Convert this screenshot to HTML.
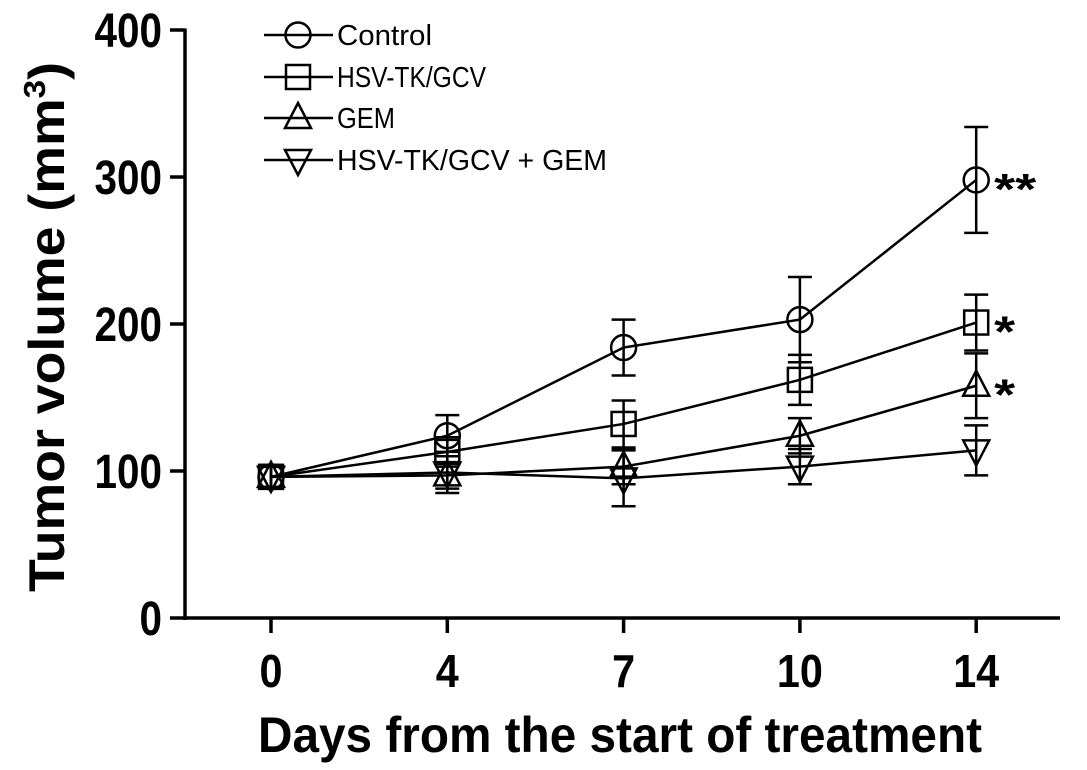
<!DOCTYPE html>
<html><head><meta charset="utf-8"><style>html,body{margin:0;padding:0;background:#fff}svg{display:block}</style></head>
<body>
<svg id="chart" width="1087" height="770" viewBox="0 0 1087 770" xmlns="http://www.w3.org/2000/svg" font-family="'Liberation Sans', Arial, sans-serif">
<g id="axes"></g>
<g id="series"></g>
<g id="legend"></g>
</svg>
<script>
const categories = ["0","4","7","10","14"];
const yTicks = [0,100,200,300,400];
const controlVals = [96,124,184,203,298];
const controlErr = [8,14,19,29,36];
const tkVals = [96,113,132,162,201];
const tkErr = [8,10,16,17,19];
const gemVals = [96,97,103,124,158];
const gemErr = [8,9,12,12,22];
const comboVals = [96,99,95,103,114];
const comboErr = [8,14,19,12,17];
const seriesNames = ["Control","HSV-TK/GCV","GEM","HSV-TK/GCV + GEM"];
const sigLabels = ["**","*","*",""];

const NS="http://www.w3.org/2000/svg";
function mk(tag,attrs,parent){const e=document.createElementNS(NS,tag);for(const k in attrs)e.setAttribute(k,attrs[k]);parent.appendChild(e);return e;}
const x0=271, dx=176.3;
function xs(i){return x0+i*dx;}
function ys(v){return 618-v*1.47;}
const axes=document.getElementById('axes');
const yAxis=mk('line',{x1:185,y1:ys(400)-1.5,x2:185,y2:620,stroke:'#000','stroke-width':3.5},axes);


const xAxis=mk('line',{x1:184,y1:618,x2:1060,y2:618,stroke:'#000','stroke-width':3.5},axes);


yTicks.forEach(v=>{
  const t=mk('line',{x1:170,y1:ys(v),x2:185,y2:ys(v),stroke:'#000','stroke-width':3.5},axes);
  
  
  const s=String(v);
  const l=mk('text',{x:162,y:ys(v)+17,'text-anchor':'end','font-size':48,'font-weight':'bold',textLength:s.length*22.5,lengthAdjust:'spacingAndGlyphs'},axes);
  l.textContent=s;
  
  
});
categories.forEach((c,i)=>{
  const t=mk('line',{x1:xs(i),y1:618,x2:xs(i),y2:633,stroke:'#000','stroke-width':3.5},axes);
  
  
  const l=mk('text',{x:xs(i),y:687,'text-anchor':'middle','font-size':46,'font-weight':'bold',textLength:c.length*23,lengthAdjust:'spacingAndGlyphs'},axes);
  l.textContent=c;
  
  
});
const xt=mk('text',{x:620,y:752,'text-anchor':'middle','font-size':50,'font-weight':'bold',textLength:724,lengthAdjust:'spacingAndGlyphs'},axes);
xt.textContent='Days from the start of treatment';


const yt=mk('text',{x:0,y:0,'text-anchor':'middle','font-size':50,'font-weight':'bold',transform:'translate(64,327) rotate(-90)',textLength:530,lengthAdjust:'spacingAndGlyphs'},axes);
yt.innerHTML='Tumor volume (mm<tspan font-size="31" dy="-19">3</tspan><tspan dy="19">)</tspan>';



function marker(type,cx,cy,g){
  let e;
  const a={fill:'none',stroke:'#000','stroke-width':2.5};
  if(type===0){e=mk('circle',Object.assign({cx:cx,cy:cy,r:12.5},a),g);}
  else if(type===1){e=mk('rect',Object.assign({x:cx-12,y:cy-12,width:24,height:24},a),g);}
  else if(type===2){e=mk('polygon',Object.assign({points:`${cx},${cy-15} ${cx-13},${cy+10} ${cx+13},${cy+10}`},a),g);}
  else {e=mk('polygon',Object.assign({points:`${cx},${cy+15} ${cx-13},${cy-10} ${cx+13},${cy-10}`},a),g);}
  return e;
}
const allVals=[controlVals,tkVals,gemVals,comboVals];
const allErr=[controlErr,tkErr,gemErr,comboErr];
const sg=document.getElementById('series');
allVals.forEach((vals,s)=>{
  const g=mk('g',{},sg);
  
  
  const pts=vals.map((v,i)=>xs(i)+','+ys(v)).join(' ');
  const pl=mk('polyline',{points:pts,fill:'none',stroke:'#000','stroke-width':2.5},g);
  
  
  vals.forEach((v,i)=>{
    const e=allErr[s][i],cx=xs(i);
    const eb=mk('path',{d:`M${cx},${ys(v+e)}V${ys(v-e)}M${cx-12},${ys(v+e)}H${cx+12}M${cx-12},${ys(v-e)}H${cx+12}`,stroke:'#000','stroke-width':2.5,fill:'none'},g);
    
    
    const m=marker(s,cx,ys(v),g);
    
    
  });
  if(sigLabels[s]){
    const last=vals.length-1;
    const t=mk('text',{x:xs(last)+18,y:ys(vals[last])+24,'font-size':44,'font-weight':'bold',textLength:sigLabels[s].length*21,lengthAdjust:'spacingAndGlyphs'},g);
    t.textContent=sigLabels[s];
    
    
  }
});
const lg=document.getElementById('legend');
const rowsY=[35,77,118,160];
const widths=[95,149,58,270];
seriesNames.forEach((n,s)=>{
  const g=mk('g',{},lg);
  
  
  const y=rowsY[s];
  mk('line',{x1:264,y1:y,x2:333,y2:y,stroke:'#000','stroke-width':2.5},g);
  marker(s,298,y,g);
  const t=mk('text',{x:337,y:y+10,'font-size':29,textLength:widths[s],lengthAdjust:'spacingAndGlyphs'},g);
  t.textContent=n;
  
  
});
</script>
</body></html>
